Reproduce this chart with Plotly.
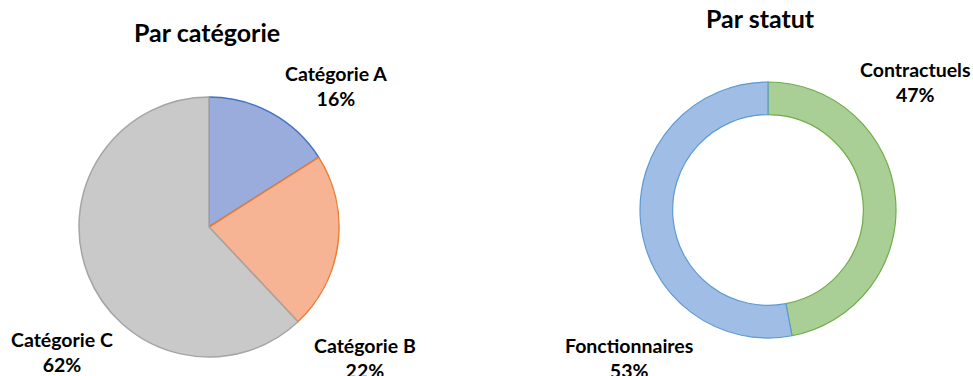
import plotly.graph_objects as go

# Data
cat_labels = ["Catégorie A", "Catégorie B", "Catégorie C"]
cat_values = [16, 22, 62]
statut_labels = ["Contractuels", "Fonctionnaires"]
statut_values = [47, 53]

W, H = 973, 376

def px(x):
    return x / W

def py(y):
    return 1 - y / H

fig = go.Figure()

fig.add_trace(go.Pie(
    labels=cat_labels, values=cat_values, sort=False, direction="clockwise", rotation=0,
    textinfo="none", hoverinfo="label+percent",
    marker=dict(colors=["#99acdb", "#f6b495", "#c9c9c9"],
                line=dict(color=["#4472c4", "#ed7d31", "#a5a5a5"], width=1.5)),
    domain=dict(x=[px(79), px(339)], y=[py(357), py(97)]),
    showlegend=False,
))

fig.add_trace(go.Pie(
    labels=statut_labels, values=statut_values, sort=False, direction="clockwise", rotation=0,
    hole=0.745, textinfo="none", hoverinfo="label+percent",
    marker=dict(colors=["#a9cf97", "#a0bde5"],
                line=dict(color=["#70ad47", "#5b9bd5"], width=1.2)),
    domain=dict(x=[px(640), px(896)], y=[py(338), py(82)]),
    showlegend=False,
))

font_family = "Lato, 'Open Sans', sans-serif"
annotations = []

# Titles
annotations.append(dict(text="<b>Par catégorie</b>", x=px(207), y=py(32), xref="paper", yref="paper",
                        showarrow=False, font=dict(family=font_family, size=25, color="#000000"),
                        xanchor="center", yanchor="middle"))
annotations.append(dict(text="<b>Par statut</b>", x=px(760), y=py(18), xref="paper", yref="paper",
                        showarrow=False, font=dict(family=font_family, size=25, color="#000000"),
                        xanchor="center", yanchor="middle"))

cat_pos = [(336, 86), (365, 358), (62, 352)]
for lab, val, (x, y) in zip(cat_labels, cat_values, cat_pos):
    annotations.append(dict(text=f"<b>{lab}</b><br><b>{val}%</b>", x=px(x), y=py(y),
                            xref="paper", yref="paper", showarrow=False, align="center",
                            font=dict(family=font_family, size=19.5, color="#000000"),
                            xanchor="center", yanchor="middle"))

statut_pos = [(915, 82), (629, 358)]
for lab, val, (x, y) in zip(statut_labels, statut_values, statut_pos):
    annotations.append(dict(text=f"<b>{lab}</b><br><b>{val}%</b>", x=px(x), y=py(y),
                            xref="paper", yref="paper", showarrow=False, align="center",
                            font=dict(family=font_family, size=19.5, color="#000000"),
                            xanchor="center", yanchor="middle"))

fig.update_layout(
    width=W, height=H,
    margin=dict(l=0, r=0, t=0, b=0),
    paper_bgcolor="white", plot_bgcolor="white",
    annotations=annotations,
)

fig.write_html("out.html", config={"displayModeBar": False},
               post_script="document.body.style.margin='0';document.body.style.padding='0';document.body.style.overflow='hidden';")
